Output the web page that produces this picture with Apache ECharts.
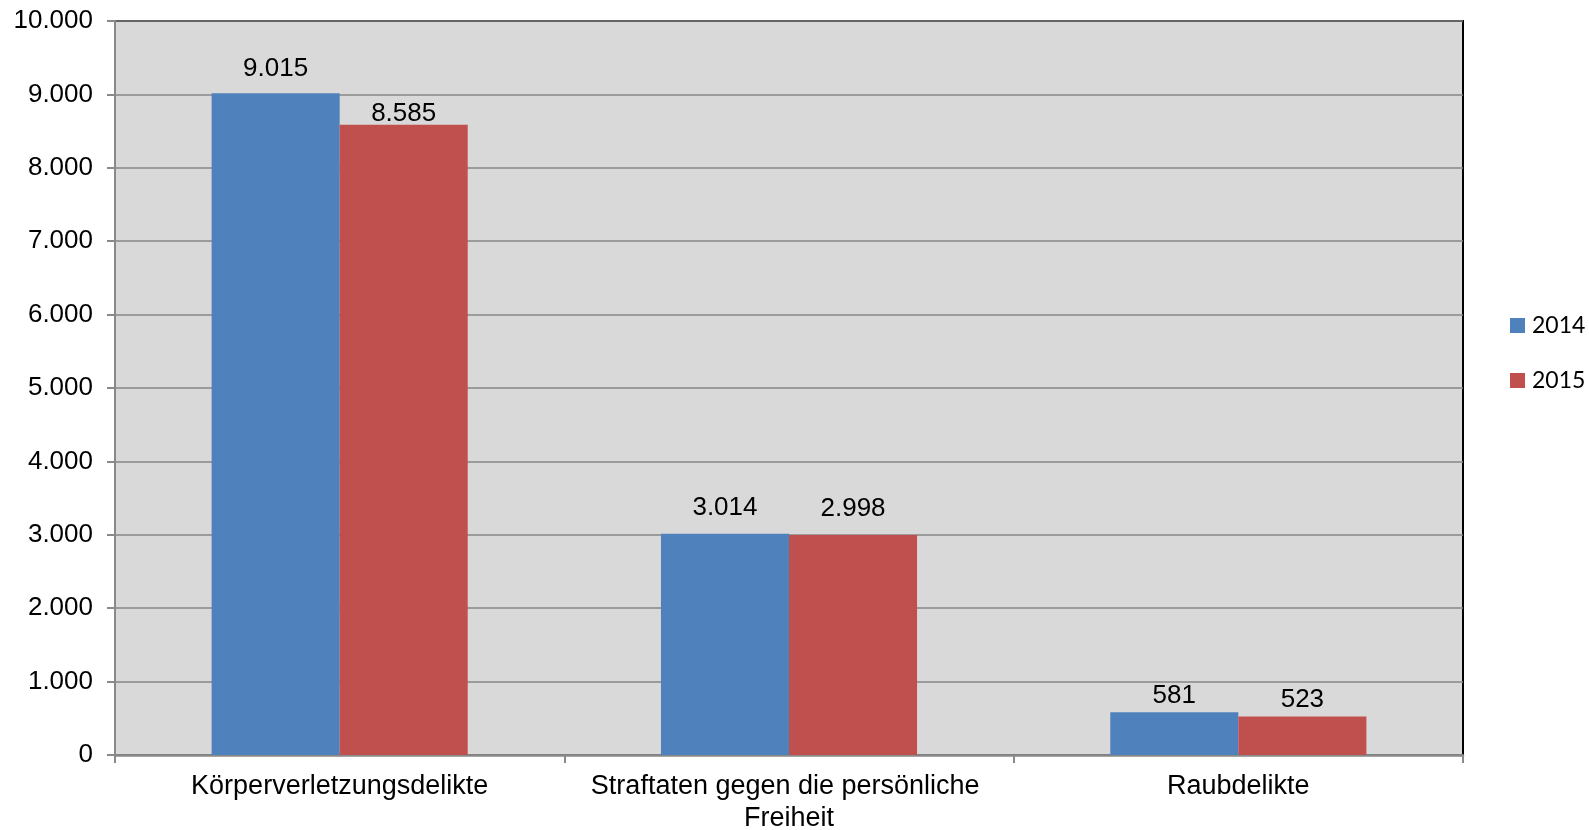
<!DOCTYPE html>
<html><head><meta charset="utf-8">
<script src="https://cdn.jsdelivr.net/npm/echarts@6/dist/echarts.min.js"></script>
<style>html,body{margin:0;padding:0;background:#fff}#c{width:1589px;height:830px}</style>
</head><body><div id="c"></div>
<script>
const categories = ['Körperverletzungsdelikte', 'Straftaten gegen die persönliche Freiheit', 'Raubdelikte'];
const values2014 = [9015, 3014, 581];
const values2015 = [8585, 2998, 523];
const seriesNames = ['2014', '2015'];

// label gaps above bars as placed in the original chart
const labelGap2014 = [11, 13, 4];
const labelGap2015 = [-2, 13, 4];

function fmt(v){ return String(v).replace(/\B(?=(\d{3})+(?!\d))/g, '.'); }
function withGaps(vals, gaps){ return vals.map((v, i) => ({value: v, label: {distance: gaps[i]}})); }

const chart = echarts.init(document.getElementById('c'));
const labelStyle = {show:true, position:'top', distance:11, color:'#000', fontFamily:'Liberation Sans', fontSize:26, formatter: p => fmt(p.value)};
chart.setOption({
  animation:false,
  grid:{left:115, right:126, top:21, bottom:75, outerBoundsMode:'none', containLabel:false, show:true, backgroundColor:'#d9d9d9', borderColor:'#000', borderWidth:2},
  legend:{orient:'vertical', left:1505, top:309, itemWidth:15, itemHeight:15, itemGap:32, icon:'rect',
    textStyle:{fontFamily:'Lato', fontSize:23, color:'#000', padding:[0,0,0,2]}, data:seriesNames},
  xAxis:{type:'category', data:categories,
    axisLine:{lineStyle:{color:'#898989', width:2.5}},
    axisTick:{show:true, length:8, alignWithLabel:false, lineStyle:{color:'#898989', width:2}},
    axisLabel:{color:'#000', fontFamily:'Liberation Sans', fontSize:27, margin:16, lineHeight:32, width:440, overflow:'break', interval:0}},
  yAxis:{type:'value', min:0, max:10000, interval:1000,
    axisLine:{show:true, lineStyle:{color:'#898989', width:2}},
    axisTick:{show:true, length:8, lineStyle:{color:'#898989', width:2}},
    splitLine:{lineStyle:{color:'#868686', width:1.6}},
    axisLabel:{color:'#000', fontFamily:'Liberation Sans', fontSize:26, margin:22, formatter: fmt}},
  series:[
    {name:seriesNames[0], type:'bar', data:withGaps(values2014, labelGap2014), barGap:'0%', barCategoryGap:'43%', itemStyle:{color:'#4f81bd'}, label:labelStyle},
    {name:seriesNames[1], type:'bar', data:withGaps(values2015, labelGap2015), barGap:'0%', barCategoryGap:'43%', itemStyle:{color:'#c0504d'}, label:labelStyle}
  ]
});
</script></body></html>
